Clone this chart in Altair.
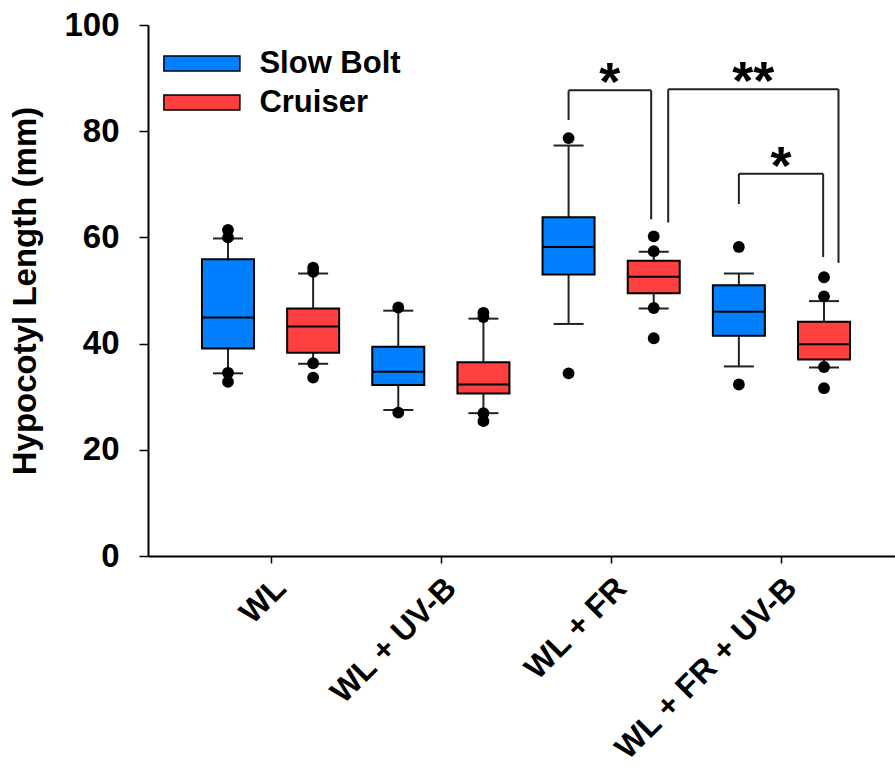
import json
import altair as alt
import pandas as pd

# ---------------- data ----------------
treatments = ["WL", "WL + UV-B", "WL + FR", "WL + FR + UV-B"]
cultivars = ["Slow Bolt", "Cruiser"]

# one entry per box, ordered treatment by treatment, Slow Bolt then Cruiser
box_treatment = [0, 0, 1, 1, 2, 2, 3, 3]
box_cultivar = [0, 1, 0, 1, 0, 1, 0, 1]
q1 = [39.1, 38.3, 32.2, 30.6, 53.0, 49.5, 41.5, 37.0]
median = [44.9, 43.2, 34.7, 32.3, 58.2, 52.6, 46.0, 39.9]
q3 = [55.9, 46.6, 39.4, 36.5, 63.8, 55.6, 51.0, 44.1]
whisker_low = [34.4, 36.2, 27.5, 26.9, 43.7, 46.6, 35.7, 35.5]
whisker_high = [59.8, 53.2, 46.2, 44.7, 77.3, 57.3, 53.2, 48.0]
outliers = [
    [61.4, 60.0, 34.5, 32.8],
    [54.3, 53.5, 36.3, 33.6],
    [46.8, 27.0],
    [45.8, 45.0, 26.9, 25.4],
    [78.7, 34.4],
    [60.2, 57.4, 46.7, 41.0],
    [58.2, 32.3],
    [52.5, 48.9, 35.6, 31.6],
]

# significance brackets (x in box-slot units, y in mm)
bracket_left = [4.0, 5.17, 6.0]
bracket_right = [4.97, 7.17, 6.99]
bracket_top = [87.7, 87.9, 72.0]
bracket_left_end = [82.1, 62.8, 66.3]
bracket_right_end = [63.4, 55.2, 56.3]
bracket_label = ["*", "**", "*"]

colors = ["#0080FF", "#FF4040"]
FONT = "Liberation Sans"

# ---------------- tables ----------------
pos = [t * 2 + c for t, c in zip(box_treatment, box_cultivar)]
boxes = pd.DataFrame({
    "pos": pos,
    "cultivar": [cultivars[c] for c in box_cultivar],
    "q1": q1, "median": median, "q3": q3,
    "lo": whisker_low, "hi": whisker_high,
})
caps = pd.DataFrame({
    "pos": pos + pos,
    "val": whisker_low + whisker_high,
})
out_rows = [{"pos": p, "val": v} for p, vals in zip(pos, outliers) for v in vals]
outl = pd.DataFrame(out_rows)

seg_rows = []
for xl, xr, yt, yl, yr in zip(bracket_left, bracket_right, bracket_top,
                              bracket_left_end, bracket_right_end):
    seg_rows.append({"x": xl, "x2": xl, "y": yl, "y2": yt})
    seg_rows.append({"x": xl, "x2": xr, "y": yt, "y2": yt})
    seg_rows.append({"x": xr, "x2": xr, "y": yr, "y2": yt})
segs = pd.DataFrame(seg_rows)
stars = pd.DataFrame({
    "x": [(a + b) / 2 for a, b in zip(bracket_left, bracket_right)],
    "y": bracket_top,
    "label": bracket_label,
})

# ---------------- scales ----------------
x_scale = alt.Scale(domain=[-0.8807, 7.775], nice=False, zero=False)
y_scale = alt.Scale(domain=[0, 100], nice=False)

label_expr = json.dumps(treatments) + "[floor(datum.value / 2)]"
x_axis = alt.Axis(
    values=[0.5, 2.5, 4.5, 6.5], labelExpr=label_expr, title=None, grid=False,
    labelAngle=-45, labelAlign="right", labelBaseline="top",
    labelFont=FONT, labelFontSize=32, labelFontWeight="bold", labelColor="black",
    labelOffset=-1, labelPadding=9, tickSize=7, tickColor="black", tickWidth=1.5,
    domainColor="black", domainWidth=2, labelOverlap=False, labelLimit=0,
)
y_axis = alt.Axis(
    values=[0, 20, 40, 60, 80, 100], title="Hypocotyl Length (mm)", grid=False,
    labelFont=FONT, labelFontSize=33, labelFontWeight="bold", labelColor="black",
    labelPadding=20, tickSize=9, tickColor="black", tickWidth=1.5,
    domainColor="black", domainWidth=2,
    titleFont=FONT, titleFontSize=33, titleFontWeight="bold", titleColor="black",
    titlePadding=21,
)

X = alt.X("pos:Q", scale=x_scale, axis=x_axis)

whiskers = alt.Chart(boxes).mark_rule(color="#222222", strokeWidth=2).encode(
    x=X, y=alt.Y("lo:Q", scale=y_scale, axis=y_axis), y2="hi:Q"
)
cap_marks = alt.Chart(caps).mark_tick(
    orient="horizontal", size=30, thickness=2, color="#222222", opacity=1
).encode(x=alt.X("pos:Q", scale=x_scale), y=alt.Y("val:Q", scale=y_scale))

box_marks = alt.Chart(boxes).mark_bar(
    size=52, stroke="black", strokeWidth=2, opacity=1
).encode(
    x=alt.X("pos:Q", scale=x_scale),
    y=alt.Y("q1:Q", scale=y_scale),
    y2="q3:Q",
    color=alt.Color(
        "cultivar:N",
        scale=alt.Scale(domain=cultivars, range=colors),
        legend=alt.Legend(
            title=None, orient="none", legendX=8, legendY=23, padding=0,
            symbolType="M-5,-1L5,-1L5,1L-5,1Z", symbolSize=231,
            symbolOffset=30.4, labelOffset=42,
            symbolStrokeColor="black", symbolStrokeWidth=1.5,
            symbolOpacity=1,
            labelFont=FONT, labelFontSize=31, labelFontWeight="bold",
            labelColor="black", rowPadding=7,
        ),
    ),
)
median_marks = alt.Chart(boxes).mark_tick(
    orient="horizontal", size=52, thickness=2, color="black", opacity=1
).encode(x=alt.X("pos:Q", scale=x_scale), y=alt.Y("median:Q", scale=y_scale))

outlier_marks = alt.Chart(outl).mark_circle(size=140, color="black", opacity=1).encode(
    x=alt.X("pos:Q", scale=x_scale), y=alt.Y("val:Q", scale=y_scale)
)

bracket_marks = alt.Chart(segs).mark_rule(color="#222222", strokeWidth=2).encode(
    x=alt.X("x:Q", scale=x_scale), x2="x2:Q",
    y=alt.Y("y:Q", scale=y_scale), y2="y2:Q",
)
star_marks = alt.Chart(stars).mark_text(
    font=FONT, fontSize=54, fontWeight="bold", color="black",
    baseline="alphabetic", align="center", dy=10,
).encode(x=alt.X("x:Q", scale=x_scale), y=alt.Y("y:Q", scale=y_scale), text="label:N")

chart = alt.layer(
    whiskers, cap_marks, box_marks, median_marks, outlier_marks,
    bracket_marks, star_marks,
).properties(
    width=747, height=531,
    autosize=alt.AutoSizeParams(type="none"),
    padding={"left": 148, "top": 25, "right": 0, "bottom": 213},
    background="white",
).configure_view(stroke=None)

chart.save("out.html", embed_options={"renderer": "svg", "actions": False})
